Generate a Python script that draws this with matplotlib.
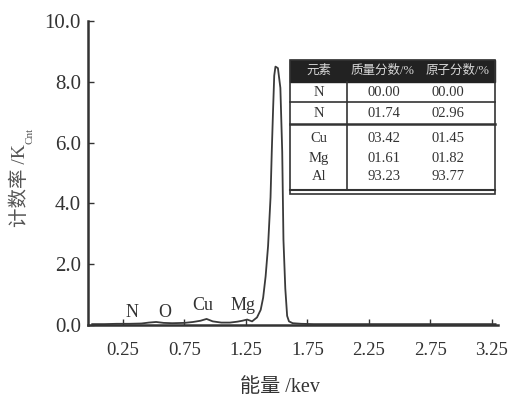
import matplotlib.pyplot as plt
from matplotlib.patches import Rectangle

plt.rcParams['font.family'] = ['Liberation Serif', 'Noto Sans CJK SC']

# EDS spectrum (energy in keV, counts in K_Cnt)
energy = [0.00, 0.10, 0.20, 0.30, 0.40, 0.46, 0.52, 0.58, 0.65, 0.75, 0.82,
          0.88, 0.93, 0.98, 1.05, 1.12, 1.18, 1.22, 1.26, 1.30, 1.34, 1.37,
          1.39, 1.41, 1.43, 1.45, 1.46, 1.47, 1.48, 1.49, 1.51, 1.53, 1.545,
          1.555, 1.57, 1.585, 1.60, 1.63, 1.70, 1.80, 2.00, 2.50, 3.00, 3.28]
counts = [0.03, 0.03, 0.04, 0.04, 0.05, 0.08, 0.10, 0.07, 0.06, 0.07, 0.10,
          0.14, 0.20, 0.12, 0.08, 0.08, 0.11, 0.14, 0.18, 0.12, 0.25, 0.50,
          0.90, 1.60, 2.60, 4.20, 5.70, 7.00, 8.20, 8.50, 8.45, 7.80, 5.70,
          2.80, 1.20, 0.30, 0.12, 0.06, 0.04, 0.03, 0.03, 0.03, 0.03, 0.03]

peak_labels = ['N', 'O', 'Cu', 'Mg']
peak_x = [0.32, 0.59, 0.90, 1.23]
peak_y = [0.12, 0.12, 0.35, 0.35]

x_ticks = [0.25, 0.75, 1.25, 1.75, 2.25, 2.75, 3.25]
y_ticks = [0.0, 2.0, 4.0, 6.0, 8.0, 10.0]

tab_head = ['元素', '质量分数/%', '原子分数/%']
tab_elem = ['N', 'N', 'Cu', 'Mg', 'Al']
tab_mass = ['00.00', '01.74', '03.42', '01.61', '93.23']
tab_atom = ['00.00', '02.96', '01.45', '01.82', '93.77']

fig = plt.figure(figsize=(5.14, 4.04), dpi=100)
ax = fig.add_axes([0.171, 0.1955, 0.798, 0.7525])

ax.plot(energy, counts, color='#3a3a3a', lw=1.3)
for lab, px, py in zip(peak_labels, peak_x, peak_y):
    ax.text(px, py, lab, fontsize=13, color='#333333', ha='center', va='bottom')

ax.set_xlim(-0.035, 3.30)
ax.set_ylim(0, 10)
ax.set_xticks(x_ticks)
ax.set_xticklabels([f'{v:.2f}' for v in x_ticks])
ax.set_yticks(y_ticks)
ax.set_yticklabels([f'{v:.1f}' for v in y_ticks])
ax.tick_params(direction='in', length=4, width=1, colors='#333333')
ax.tick_params(axis='x', pad=12, labelsize=13.5)
ax.tick_params(axis='y', pad=5, labelsize=15)
for s in ['top', 'right']:
    ax.spines[s].set_visible(False)
for s in ['left', 'bottom']:
    ax.spines[s].set_linewidth(1.8)
    ax.spines[s].set_color('#333333')

fig.text(280 / 514, 1 - 388 / 404, '能量 /kev', fontsize=14.5, color='#333333',
         ha='center', va='center')

# y label: CJK text plus a separate subscript (mathtext has no CJK glyphs)
yl = fig.text(20 / 514, 1 - 227 / 404, '计数率 /K', rotation=90, fontsize=14,
              color='#555555', ha='center', va='bottom')
fig.canvas.draw()
bb = yl.get_window_extent().transformed(fig.transFigure.inverted())
fig.text(bb.x1 - 0.008, bb.y1, 'Cnt', rotation=90, fontsize=8,
         color='#555555', ha='left', va='bottom')

# table
T = ax.transAxes
x0, x1 = 0.493, 0.993
ytop, yhead, ybot = 0.872, 0.799, 0.431
ax.add_patch(Rectangle((x0, yhead), x1 - x0, ytop - yhead, transform=T,
                       facecolor='#222222', edgecolor='#222222', clip_on=False))
ax.add_patch(Rectangle((x0, ybot), x1 - x0, ytop - ybot, transform=T,
                       facecolor='none', edgecolor='#333333', lw=1.2, clip_on=False))
for yy, lw in [(0.734, 1.2), (0.661, 1.8), (0.444, 1.5)]:
    ax.plot([x0, x1], [yy, yy], transform=T, color='#333333', lw=lw, clip_on=False)
ax.plot([0.632, 0.632], [0.444, yhead], transform=T, color='#333333', lw=1.2,
        clip_on=False)

head_x = [0.563, 0.717, 0.900]
for cx, h in zip(head_x, tab_head):
    ax.text(cx, 0.836, h, transform=T, ha='center', va='center', fontsize=9,
            color='#d8d8d8')
col_x = [0.563, 0.722, 0.878]
row_y = [0.766, 0.697, 0.612, 0.549, 0.490]
for ry, e, m, a in zip(row_y, tab_elem, tab_mass, tab_atom):
    for cx, t in zip(col_x, [e, m, a]):
        ax.text(cx, ry, t, transform=T, ha='center', va='center', fontsize=10.5,
                color='#333333')

fig.savefig('out.png', dpi=100)
